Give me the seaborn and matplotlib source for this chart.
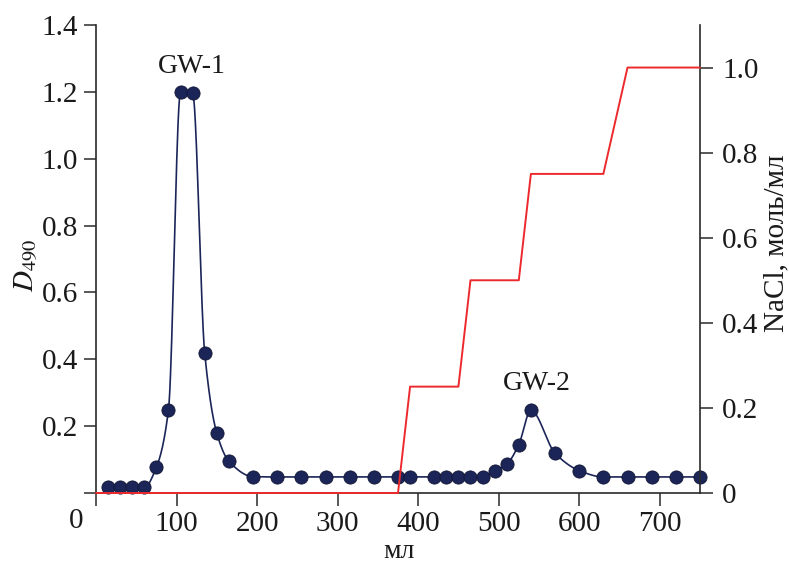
import numpy as np
import pandas as pd
import matplotlib
matplotlib.use("Agg")
import matplotlib.pyplot as plt
import seaborn as sns

# ---------------- data ----------------
volume_ml = [15, 30, 45, 60, 75, 90, 105, 120, 135, 150, 165, 195,
             225, 255, 285, 315, 345, 375, 390, 420, 435, 450, 465, 480,
             495, 510, 525, 540, 570, 600, 630, 660, 690, 720, 750]
d490 = [0.017, 0.017, 0.017, 0.017, 0.077, 0.249, 1.201, 1.196, 0.418, 0.179, 0.095, 0.049,
        0.048, 0.048, 0.048, 0.048, 0.048, 0.048, 0.048, 0.048, 0.048, 0.048, 0.048, 0.048,
        0.067, 0.086, 0.145, 0.247, 0.119, 0.067, 0.048, 0.048, 0.048, 0.048, 0.048]

gradient_ml = [0, 375, 390, 450, 465, 525, 540, 630, 660, 750]
nacl_molar = [0, 0, 0.25, 0.25, 0.5, 0.5, 0.75, 0.75, 1.0, 1.0]

x_ticks = [0, 100, 200, 300, 400, 500, 600, 700]
x_tick_labels = ["", "100", "200", "300", "400", "500", "600", "700"]
y_ticks = [0, 0.2, 0.4, 0.6, 0.8, 1.0, 1.2, 1.4]
y_tick_labels = ["", "0.2", "0.4", "0.6", "0.8", "1.0", "1.2", "1.4"]
y2_ticks = [0, 0.2, 0.4, 0.6, 0.8, 1.0]
y2_tick_labels = ["0", "0.2", "0.4", "0.6", "0.8", "1.0"]

peak_labels = ["GW-1", "GW-2"]
peak_label_x = [119, 547]
peak_label_y = [1.275, 0.329]

# ---------------- styling ----------------
sns.set_theme(style="ticks")
plt.rcParams["font.family"] = ["Liberation Serif", "DejaVu Serif"]
plt.rcParams["mathtext.fontset"] = "stix"

NAVY = "#1b2558"
RED = "#ec2a2e"
FS = 21
FS_LAB = 20


def pchip(x, y, xs):
    """monotone cubic curve used only to draw the smooth connecting line"""
    x = np.asarray(x, float)
    y = np.asarray(y, float)
    h = np.diff(x)
    d = np.diff(y) / h
    n = len(x)
    m = np.zeros(n)
    for k in range(1, n - 1):
        if d[k - 1] * d[k] > 0:
            w1 = 2 * h[k] + h[k - 1]
            w2 = h[k] + 2 * h[k - 1]
            m[k] = (w1 + w2) / (w1 / d[k - 1] + w2 / d[k])
    m[0] = d[0]
    m[-1] = d[-1]
    idx = np.clip(np.searchsorted(x, xs) - 1, 0, n - 2)
    t = (xs - x[idx]) / h[idx]
    h00 = 2 * t**3 - 3 * t**2 + 1
    h10 = t**3 - 2 * t**2 + t
    h01 = -2 * t**3 + 3 * t**2
    h11 = t**3 - t**2
    return h00 * y[idx] + h10 * h[idx] * m[idx] + h01 * y[idx + 1] + h11 * h[idx] * m[idx + 1]


points = pd.DataFrame({"ml": volume_ml, "d490": d490})
xs = np.linspace(volume_ml[0], volume_ml[-1], 1500)
curve = pd.DataFrame({"ml": xs, "d490": pchip(volume_ml, d490, xs)})
grad = pd.DataFrame({"ml": gradient_ml, "nacl": nacl_molar})

W, H = 789, 566
fig = plt.figure(figsize=(W / 100, H / 100), dpi=100)
x0, x1, y0, y1 = 96, 700, 493, 25
ax = fig.add_axes([x0 / W, 1 - y0 / H, (x1 - x0) / W, (y0 - y1) / H])

sns.lineplot(data=curve, x="ml", y="d490", ax=ax, color=NAVY, lw=1.2,
             sort=False, estimator=None, zorder=2)
sns.scatterplot(data=points, x="ml", y="d490", ax=ax, color=NAVY, s=90,
                edgecolor="#111633", linewidth=0.6, zorder=3, clip_on=False)

ax.set_xlim(0, 750)
ax.set_ylim(0, 1.4)
ax.set_xticks(x_ticks)
ax.set_xticklabels(x_tick_labels, fontsize=FS)
ax.set_yticks(y_ticks)
ax.set_yticklabels(y_tick_labels, fontsize=FS)
ax.set_xlabel("")
ax.set_ylabel("")

ax2 = ax.twinx()
sns.lineplot(data=grad, x="ml", y="nacl", ax=ax2, color=RED, lw=1.4,
             sort=False, estimator=None, zorder=4, clip_on=False)
ax2.set_ylim(0, 1.1)
ax2.set_yticks(y2_ticks)
ax2.set_yticklabels(y2_tick_labels, fontsize=FS)
ax2.set_ylabel("")

for a in (ax, ax2):
    a.spines["top"].set_visible(False)
    for s in a.spines.values():
        s.set_linewidth(1.2)
        s.set_color("#2a2a2a")
    a.tick_params(direction="out", length=9, width=1.1, color="#2a2a2a",
                  labelcolor="#1a1a1a", pad=4)
ax2.tick_params(axis="y", pad=7)
ax.spines["right"].set_visible(False)
ax2.spines["left"].set_visible(False)
ax2.spines["bottom"].set_visible(False)

for lab, lx, ly in zip(peak_labels, peak_label_x, peak_label_y):
    ax.text(lx, ly, lab, fontsize=FS_LAB, ha="center", va="center", color="#1a1a1a")

fig.text(76 / W, 1 - 521 / H, "0", fontsize=FS, ha="center", va="center", color="#1a1a1a")
fig.text(27 / W, 1 - 265 / H, r"$D_{490}$", fontsize=FS_LAB + 1, rotation=90,
         ha="center", va="center", color="#1a1a1a")
fig.text(776 / W, 1 - 243 / H, "NaCl, моль/мл", fontsize=FS, rotation=90,
         ha="center", va="center", color="#1a1a1a")
fig.text(399 / W, 1 - 552 / H, "мл", fontsize=FS_LAB, ha="center", va="center", color="#1a1a1a")

fig.savefig("out.png", dpi=100)
